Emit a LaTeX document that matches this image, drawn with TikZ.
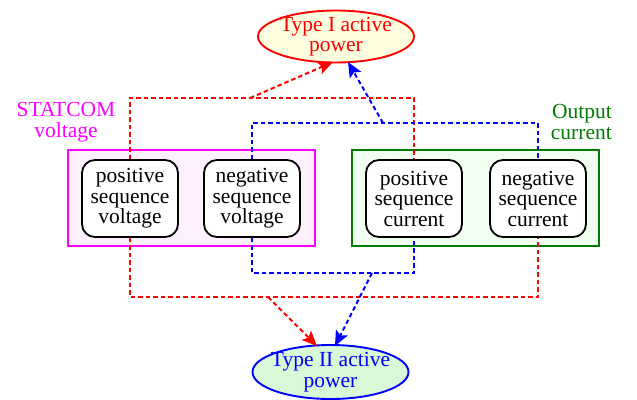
\documentclass[tikz,border=0pt]{standalone}
\usepackage{fontspec}
\setmainfont{Liberation Serif}
\usetikzlibrary{arrows.meta,shapes.geometric}
\definecolor{ylfill}{HTML}{FFFFE0}
\definecolor{grfill}{HTML}{D8F8D8}
\definecolor{pkfill}{HTML}{FDF0FD}
\definecolor{gbfill}{HTML}{F0FFF0}
\definecolor{dgreen}{HTML}{007A00}
\definecolor{mag}{HTML}{FF00FF}
\definecolor{rr}{HTML}{FF0000}
\definecolor{bb}{HTML}{0000FF}
\tikzset{
  txt/.style={font=\fontsize{21.5}{20.5}\selectfont, align=center, inner sep=0pt},
  inner/.style={draw=black, line width=1.8pt, rounded corners=13pt, fill=white, minimum width=96pt, minimum height=77pt, txt},
  ell/.style={ellipse, line width=1.9pt, minimum width=156pt, minimum height=52pt, txt, inner xsep=-10pt, inner ysep=-6pt},
  grp/.style={line width=1.8pt},
  rd/.style={draw=rr, line width=2pt, dash pattern=on 4.5pt off 3pt},
  bd/.style={draw=bb, line width=2pt, dash pattern=on 4.5pt off 3pt},
  arr/.style={-{Stealth[length=15pt,width=13pt,inset=3pt]}}
}
\begin{document}
\begin{tikzpicture}[x=1pt,y=-1pt]
\useasboundingbox (0,0) rectangle (637,399);
% group boxes
\draw[grp, draw=mag, fill=pkfill] (68,150) rectangle (315,246);
\draw[grp, draw=dgreen, fill=gbfill] (352,150) rectangle (599,246);
\node[txt, text=mag] (lblv) at (66,122) {STATCOM\\voltage};
\node[txt, text=dgreen, align=right, anchor=east] (lblc) at (612,122) {Output\\current};
% inner nodes
\node[inner] (psv) at (130,198.5) {positive\\sequence\\voltage};
\node[inner] (nsv) at (252,198.5) {negative\\sequence\\voltage};
\node[inner] (psc) at (414,198.5) {positive\\sequence\\current};
\node[inner] (nsc) at (538,198.5) {negative\\sequence\\current};
% ellipses
\node[ell, draw=rr, fill=ylfill, text=rr] (t1) at (336,36.5) {Type I active\\power};
\node[ell, draw=bb, fill=grfill, text=bb, minimum height=54pt] (t2) at (330.5,372) {Type II active\\power};
% branch coordinates
\coordinate (r1) at (250,98);
\coordinate (b1) at (383,123);
\coordinate (r2) at (268,297);
\coordinate (b2) at (372,273);
% top red
\draw[rd] (psv.north) -- (130,98) -- (414,98) -- (psc.north);
\draw[rd, arr, rr] (r1) -- (333,62);
% top blue
\draw[bd] (nsv.north) -- (252,123) -- (538,123) -- (nsc.north);
\draw[bd, arr, bb] (b1) -- (348,62);
% bottom red
\draw[rd] (psv.south) -- (130,297) -- (538,297) -- (nsc.south);
\draw[rd, arr, rr] (r2) -- (317,346);
% bottom blue
\draw[bd] (nsv.south) -- (252,273) -- (414,273) -- (psc.south);
\draw[bd, arr, bb] (b2) -- (335,346);
\end{tikzpicture}
\end{document}
